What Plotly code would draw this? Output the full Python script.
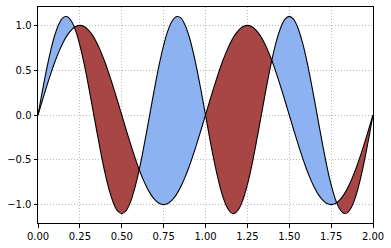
import plotly.graph_objects as go

x = [round(0.025 * k, 3) for k in range(81)]

y1_half = [0.0, 0.156, 0.309, 0.454, 0.588, 0.707, 0.809, 0.891, 0.951, 0.988, 1.0,
           0.988, 0.951, 0.891, 0.809, 0.707, 0.588, 0.454, 0.309, 0.156, 0.0,
           -0.156, -0.309, -0.454, -0.588, -0.707, -0.809, -0.891, -0.951, -0.988, -1.0,
           -0.988, -0.951, -0.891, -0.809, -0.707, -0.588, -0.454, -0.309, -0.156, 0.0]
y1 = y1_half + y1_half[1:]

y2_half = [0.0, 0.257, 0.499, 0.714, 0.890, 1.016, 1.086, 1.097, 1.046, 0.938, 0.778,
           0.575, 0.340, 0.086, -0.172, -0.421, -0.647, -0.836, -0.980, -1.070, -1.100,
           -1.070, -0.980, -0.836, -0.647, -0.421, -0.172, 0.086, 0.340, 0.575, 0.778,
           0.938, 1.046, 1.097, 1.086, 1.016, 0.890, 0.714, 0.499, 0.257, 0.0]
y2 = y2_half + [-v for v in y2_half[1:]]

BLUE = "#8cb2f2"
RED = "#a84646"

fig = go.Figure()

# split into regions where sign of (y2 - y1) is constant
regions = []
cur = {"x": [x[0]], "a": [y1[0]], "b": [y2[0]], "s": 0}
for i in range(1, len(x)):
    d0 = y2[i - 1] - y1[i - 1]
    d1 = y2[i] - y1[i]
    if d0 != 0 and cur["s"] == 0:
        cur["s"] = d0
    if d0 * d1 < 0:
        t = d0 / (d0 - d1)
        xc = x[i - 1] + t * (x[i] - x[i - 1])
        yc = y1[i - 1] + t * (y1[i] - y1[i - 1])
        cur["x"].append(xc); cur["a"].append(yc); cur["b"].append(yc)
        regions.append(cur)
        cur = {"x": [xc], "a": [yc], "b": [yc], "s": d1}
    cur["x"].append(x[i]); cur["a"].append(y1[i]); cur["b"].append(y2[i])
    if cur["s"] == 0 and d1 != 0:
        cur["s"] = d1
    if d1 == 0 and i < len(x) - 1:
        regions.append(cur)
        cur = {"x": [x[i]], "a": [y1[i]], "b": [y2[i]], "s": 0}
regions.append(cur)

for reg in regions:
    px = reg["x"] + reg["x"][::-1]
    py = reg["b"] + reg["a"][::-1]
    fig.add_trace(go.Scatter(x=px, y=py, fill="toself", mode="none",
                             fillcolor=BLUE if reg["s"] > 0 else RED,
                             hoverinfo="skip", showlegend=False))

for yy in (y1, y2):
    fig.add_trace(go.Scatter(x=x, y=yy, mode="lines", line=dict(color="black", width=1.1, shape="spline"),
                             showlegend=False))

axis_common = dict(showline=True, linecolor="black", linewidth=1, mirror=True,
                   ticks="outside", ticklen=3.5, tickcolor="black",
                   showgrid=True, gridcolor="#b8b8b8", griddash="1px,2px", gridwidth=0.8,
                   zeroline=False, tickfont=dict(family="DejaVu Sans", size=10, color="black"))

fig.update_xaxes(range=[0, 2], tickvals=[0, 0.25, 0.5, 0.75, 1.0, 1.25, 1.5, 1.75, 2.0],
                 ticktext=["0.00", "0.25", "0.50", "0.75", "1.00", "1.25", "1.50", "1.75", "2.00"],
                 **axis_common)
fig.update_yaxes(range=[-1.205, 1.205], tickvals=[-1.0, -0.5, 0.0, 0.5, 1.0],
                 ticktext=["\u22121.0", "\u22120.5", "0.0", "0.5", "1.0"], **axis_common)

fig.update_layout(width=391, height=248, margin=dict(l=38, r=18, t=6, b=24),
                  plot_bgcolor="white", paper_bgcolor="white")

fig.write_html("out.html")
